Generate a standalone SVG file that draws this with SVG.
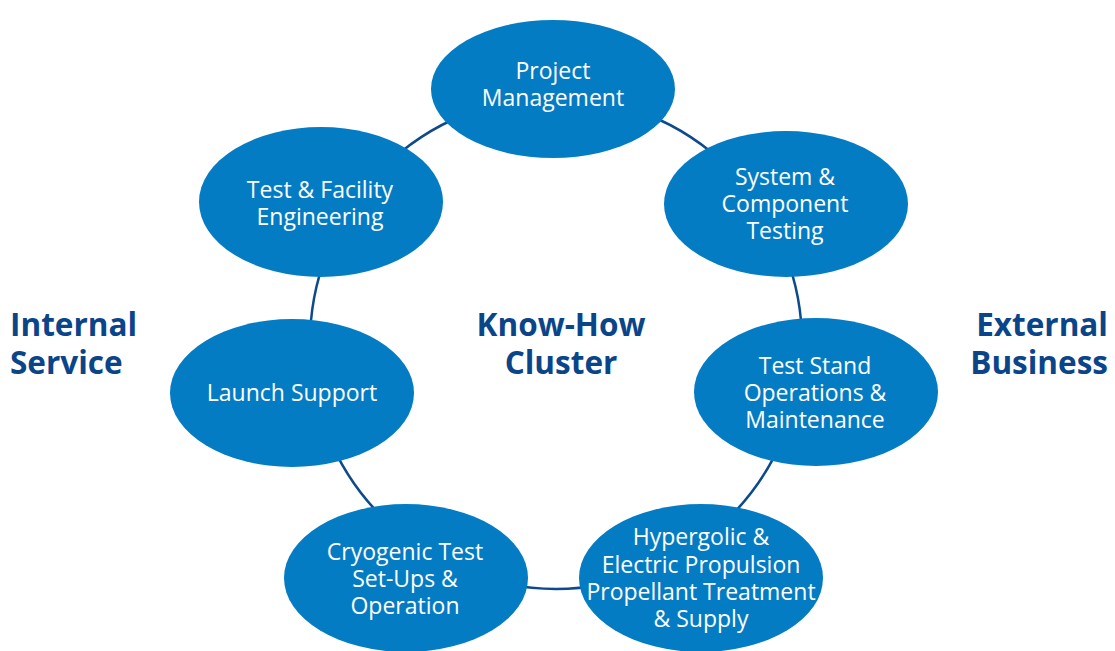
<svg xmlns="http://www.w3.org/2000/svg" width="1115" height="651" viewBox="0 0 1115 651">
<style>
.node{fill:#047cc4}
.lbl{font-family:"Open Sans","Noto Sans",sans-serif;font-size:23px;fill:#ffffff;text-anchor:middle}
.ttl{font-family:"Open Sans","Noto Sans",sans-serif;font-size:31.5px;font-weight:bold;fill:#0a4589}
.ring{fill:none;stroke:#0d4a8c;stroke-width:2.5}
</style>
<rect width="1115" height="651" fill="#ffffff"/>
<g id="connectors">
<circle class="ring" cx="556" cy="343" r="246"/>
</g>
<g id="project-management">
<ellipse class="node" cx="553" cy="89" rx="122" ry="69"/>
<text class="lbl" x="553" y="79">Project</text>
<text class="lbl" x="553" y="106">Management</text>
</g>
<g id="system-component-testing">
<ellipse class="node" cx="786" cy="204" rx="122" ry="73"/>
<text class="lbl" x="785" y="185">System &amp;</text>
<text class="lbl" x="785" y="212">Component</text>
<text class="lbl" x="785" y="239">Testing</text>
</g>
<g id="test-stand-operations">
<ellipse class="node" cx="816" cy="392" rx="122" ry="74"/>
<text class="lbl" x="815" y="374">Test Stand</text>
<text class="lbl" x="815" y="401">Operations &amp;</text>
<text class="lbl" x="815" y="428">Maintenance</text>
</g>
<g id="hypergolic-electric-propulsion">
<ellipse class="node" cx="701" cy="578" rx="122" ry="74"/>
<text class="lbl" x="701" y="545">Hypergolic &amp;</text>
<text class="lbl" x="701" y="573">Electric Propulsion</text>
<text class="lbl" x="701" y="600">Propellant Treatment</text>
<text class="lbl" x="701" y="627">&amp; Supply</text>
</g>
<g id="cryogenic-test">
<ellipse class="node" cx="406" cy="578" rx="122" ry="74"/>
<text class="lbl" x="405" y="560">Cryogenic Test</text>
<text class="lbl" x="405" y="587">Set-Ups &amp;</text>
<text class="lbl" x="405" y="614">Operation</text>
</g>
<g id="launch-support">
<ellipse class="node" cx="292" cy="393" rx="122" ry="74"/>
<text class="lbl" x="292" y="401">Launch Support</text>
</g>
<g id="test-facility-engineering">
<ellipse class="node" cx="321" cy="202" rx="122" ry="75"/>
<text class="lbl" x="320" y="198">Test &amp; Facility</text>
<text class="lbl" x="320" y="225">Engineering</text>
</g>
<g id="titles">
<text class="ttl" x="10" y="336">Internal</text>
<text class="ttl" x="10" y="374">Service</text>
<text class="ttl" x="561" y="336" text-anchor="middle">Know-How</text>
<text class="ttl" x="561" y="374" text-anchor="middle">Cluster</text>
<text class="ttl" x="1108" y="336" text-anchor="end">External</text>
<text class="ttl" x="1108" y="374" text-anchor="end">Business</text>
</g>
</svg>
